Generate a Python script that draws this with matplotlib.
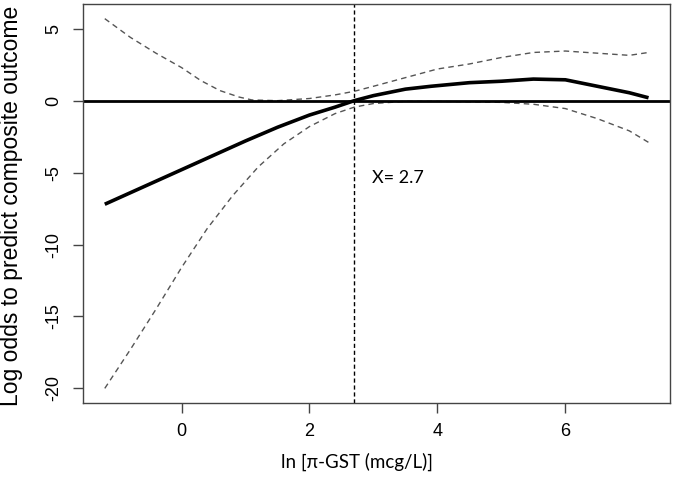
import matplotlib
matplotlib.use("Agg")
import matplotlib.pyplot as plt

# Data
fit_x = [-1.2, -0.5, 0.0, 0.5, 1.0, 1.5, 2.0, 2.4, 2.7, 3.0, 3.5, 3.9, 4.5, 5.0, 5.5, 6.0, 6.5, 7.0, 7.3]
fit_y = [-7.2, -5.8, -4.8, -3.8, -2.8, -1.85, -1.0, -0.45, 0.0, 0.35, 0.8, 1.0, 1.25, 1.35, 1.5, 1.45, 1.0, 0.55, 0.2]

upper_x = [-1.2, -0.8, -0.4, 0.0, 0.3, 0.6, 0.9, 1.1, 1.5, 2.0, 2.4, 2.7, 3.0, 3.5, 4.0, 4.5, 5.0, 5.5, 6.0, 6.5, 7.0, 7.3]
upper_y = [5.7, 4.4, 3.3, 2.3, 1.4, 0.7, 0.25, 0.05, 0.0, 0.15, 0.4, 0.65, 1.0, 1.6, 2.2, 2.55, 3.0, 3.35, 3.45, 3.3, 3.15, 3.35]

lower_x = [-1.2, -0.8, -0.4, 0.0, 0.4, 0.8, 1.2, 1.6, 2.0, 2.4, 2.7, 3.0, 3.5, 4.0, 4.5, 5.0, 5.5, 6.0, 6.5, 7.0, 7.3]
lower_y = [-20.0, -17.3, -14.5, -11.6, -8.9, -6.6, -4.6, -3.0, -1.8, -0.9, -0.45, -0.2, -0.05, -0.05, -0.08, -0.12, -0.25, -0.55, -1.25, -2.1, -2.9]

cutoff = 2.7
x_ticks = [0, 2, 4, 6]
y_ticks = [5, 0, -5, -10, -15, -20]

fig = plt.figure(figsize=(6.75, 4.8), dpi=100)
ax = fig.add_axes([0.123, 0.160, 0.870, 0.832])

dash_col = "#555555"
ax.plot(upper_x, upper_y, color=dash_col, lw=1.0, linestyle=(0, (4, 3)))
ax.plot(lower_x, lower_y, color=dash_col, lw=1.0, linestyle=(0, (4, 3)))
ax.axhline(0, color="black", lw=2.0)
ax.plot(fit_x, fit_y, color="black", lw=2.6, solid_capstyle="butt")
ax.axvline(cutoff, color="black", lw=1.0, linestyle=(0, (3, 2)))

ax.text(2.98, -5.4, "X= " + str(cutoff), fontsize=13, family="Lato", va="center", ha="left")

ax.set_xlim(-1.54, 7.64)
ax.set_ylim(-21.03, 6.73)
ax.set_xticks(x_ticks)
ax.set_yticks(y_ticks)
ax.set_xticklabels([str(v) for v in x_ticks], fontsize=13, family="Liberation Sans")
ax.set_yticklabels([str(v) for v in y_ticks], fontsize=13, family="Liberation Sans",
                   rotation=90, va="center")
ax.tick_params(direction="out", length=7, width=1, color="#444444")
ax.tick_params(axis="x", pad=7)
ax.tick_params(axis="y", pad=8)
for s in ax.spines.values():
    s.set_color("#444444")
    s.set_linewidth(1.0)

fig.text(12 / 675, 1 - 206 / 480, "Log odds to predict composite outcome", fontsize=16.5,
         family="Liberation Sans", rotation=90, ha="center", va="center")
fig.text(357 / 675, 1 - 462 / 480, "ln [\u03c0-GST (mcg/L)]", fontsize=13.5, family="Lato",
         ha="center", va="center")

fig.savefig("out.png", dpi=100)
